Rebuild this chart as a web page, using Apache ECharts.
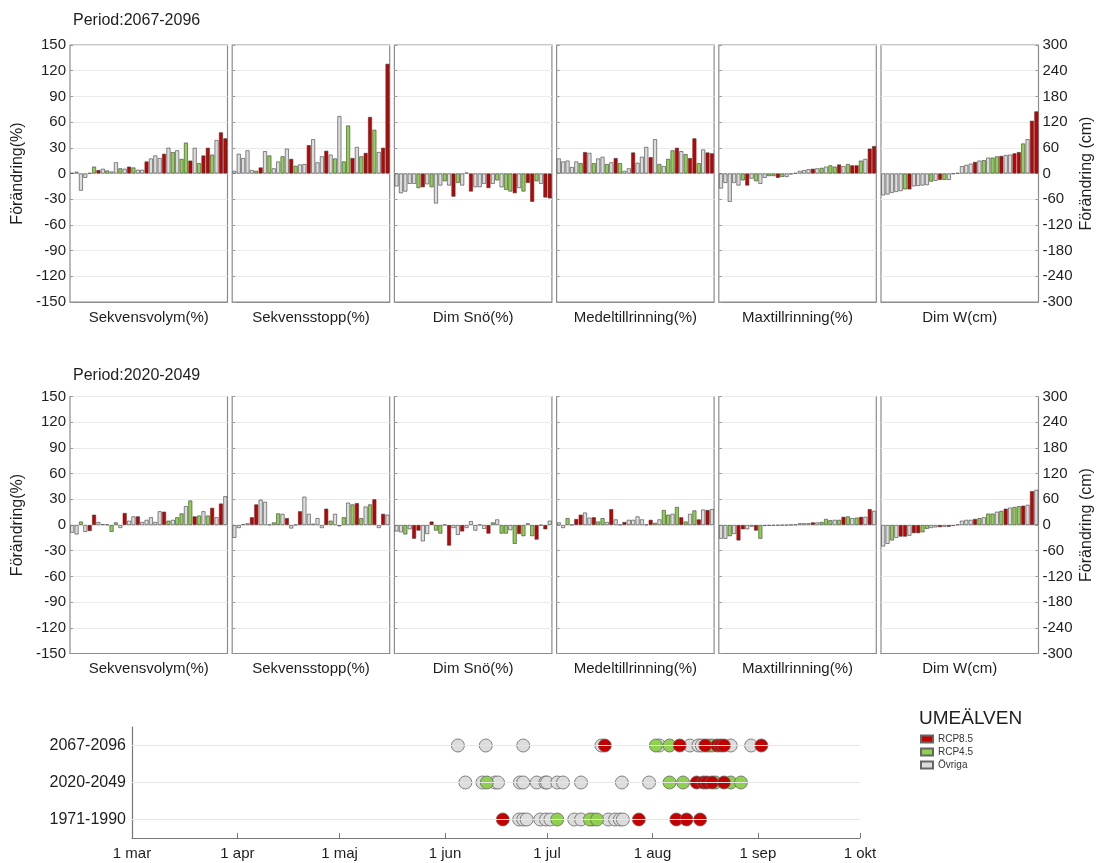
<!DOCTYPE html>
<html>
<head>
<meta charset="utf-8">
<script src="https://cdn.jsdelivr.net/npm/echarts@6/dist/echarts.min.js"></script>
<style>
  html, body { margin: 0; padding: 0; background: #fff; }
  #chart { width: 1100px; height: 863px; }
</style>
</head>
<body>
<div id="chart"></div>
<script>
// panel names (x labels under each box)
const panelNames = ['Sekvensvolym(%)', 'Sekvensstopp(%)', 'Dim Snö(%)', 'Medeltillrinning(%)', 'Maxtillrinning(%)', 'Dim W(cm)'];
const periods = ['Period:2067-2096', 'Period:2020-2049'];
const models = Array.from({ length: 36 }, (_, i) => 'M' + (i + 1));

// scenario of each bar: R = RCP8.5, G = RCP4.5, O = Övriga
const scen67 = 'OOOOOGROGOOGORGOOROOOROGOGGROGRRGORR';
const scen67Max = 'OOOOOGROGOOGGRGOOOOOOROGOGGROGRRGORR';
const scen67DimW = 'OOOOOGROOOOGORGOOOOOOROGOGGROORRGORR';
const scen20 = 'OOGORROORGGOROOROOOOORGOGGOGRGOGRORO';
const scen20Max = 'OOGORROORGO' + 'OOOOOOO' + 'OOOROGGGOGRGOGRORO';
const scen20DimW = 'OOGORRORRG' + 'GOOROROOOO' + 'ORGOGGOGRO' + 'GGRORO';

// 2067-2096
const volym67 = [0.5, 2, -20, -5, 0.5, 8, 4, 5.5, 3.5, 2.3, 13, 6, 5.5, 8, 7, 4.3, 4.3, 14, 17.5, 21, 18, 23, 30, 25, 27, 17, 36, 15, 30, 12, 21, 30, 22, 39, 48, 41];
const topp67 = [3, 23, 18, 27, 4, 3, 7, 26, 21, 6, 14, 20, 29, 17, 9, 10.5, 11, 33, 40, 13, 20, 26.5, 22, 17.5, 67, 14, 56, 18, 31, 20, 24, 66, 51, 25, 30, 128];
const sno67 = [-15, -23, -21, -12, -12, -17, -16, -12.5, -16, -35, -14, -9, -14, -27, -11, -14, 1, -21, -16, -16, -12, -17, -12, -8, -16, -19, -21, -23, -17, -21, -11, -33, -9, -12, -28, -29];
const medel67 = [17.5, 14, 15, 7.5, 14, 12, 25, 24, 12, 17.5, 19.5, 11, 13, 18, 12, 3, 6, 24.5, 12.5, 19.5, 31, 19, 40, 11, 8.5, 17, 27, 30, 26, 22.5, 18, 41, 12, 28, 24.5, 23.5];
const max67 = [-17.5, -11, -33, -11, -14, -8, -14, -6, -9, -12, -5, -3, -3, -5, -4, -4, -1, 0.5, 3, 4, 5, 5.5, 6, 6.5, 8, 9.5, 8, 10.5, 8.5, 11, 9.5, 9.5, 15, 17, 29, 32];
const dimW67 = [-51, -49, -45, -43, -41, -37, -37, -30, -29, -28, -27, -19, -17, -15, -15, -15, -1, 1, 17, 20, 23, 27, 30, 31, 37, 37, 40, 41, 43, 44, 47, 50, 70, 80, 123, 145];

// 2020-2049
const volym20 = [-9, -11, 4, -8, -7, 12, 3.5, 1, 0.5, -8, 3, -3.5, 14, 5, 10, 10, 3.5, 6, 9, 3.5, 16, 15.5, 5, 6, 9, 13.5, 22, 28.5, 10, 11, 16, 11, 20, 9, 25, 33.5];
const topp20 = [-15, -3.5, 1, 2, 9, 24, 29.5, 27, 0.5, 3, 13.5, 13, 8, -4, 0.3, 16, 33, 13, 1.5, 8, -3.5, 19, 5, 13, -1.5, 9, 26, 24, 25.5, 8, 21.5, 24, 30, -3.5, 13, 12];
const sno20 = [-7.5, -8.5, -11, -5, -16, -6.5, -19, -10.5, 4, -6.5, -10, 0.3, -24, -3.5, -11.5, -7.5, -3.5, 4.5, -6.5, 0.3, -4.5, -10, 3, 6.5, -10, -10, -6, -22, -10.5, -13, 2, -13, -17, -0.3, -5, 5];
const medel20 = [3, -3.5, 8, 0.3, 7, 12, 14.5, 8.5, 9, 4, 8, 3.5, 18.5, 6.5, 0.5, 3.5, 6, 6, 10, 6.5, 0.5, 6, 2.5, 6.5, 17.5, 12, 13, 21, 9, 4, 13, 17, 6.5, 18, 17.5, 18.5];
const max20 = [-16, -16, -13, -10.5, -18, -5, -5, -2, -6.5, -16, -1, -0.8, -0.6, -0.5, -0.3, -0.2, 0.2, 0.4, 2, 2, 2, 3, 3, 3.5, 7, 5.5, 6, 6, 9.5, 10, 8, 8.5, 9.5, 9.5, 18.5, 16.5];
const dimW20 = [-50, -44, -36, -30, -27, -27, -25, -19, -19, -17, -9, -7, -5.5, -5, -4, -4, -2, 1, 10, 12, 12, 14, 16, 18, 26.5, 26.5, 31, 33, 38, 40.5, 42, 44, 45, 47, 79, 82];

// timing (days after 1 mar) per period and scenario
const timeRows = ['1971-1990', '2020-2049', '2067-2096'];
const tickDays = [0, 31, 61, 92, 122, 153, 184, 214];
const tickNames = ['1 mar', '1 apr', '1 maj', '1 jun', '1 jul', '1 aug', '1 sep', '1 okt'];
const t67R = [139, 161, 168.5, 172, 173, 174, 185];
const t67G = [154, 158, 170.5];
const t67O = [95.8, 104, 115, 138, 155, 164, 166.5, 167.5, 169.5, 176, 182];
const t20R = [166, 168, 169, 170.5, 174];
const t20G = [104.3, 158, 162, 171.5, 176, 179];
const t20O = [98, 103, 106.7, 107.6, 114, 115, 119, 121.5, 122, 125, 126.7, 132, 144, 152];
const t71R = [109, 149, 160, 163, 167];
const t71G = [125, 134.6, 136.7];
const t71O = [113.8, 115, 116, 120, 121.7, 123, 130, 132, 135.5, 140, 142, 143.4, 144.3];

const rows = [
  [volym67, topp67, sno67, medel67, max67, dimW67],
  [volym20, topp20, sno20, medel20, max20, dimW20]
];
const rowScen = [
  [scen67, scen67, scen67, scen67, scen67Max, scen67DimW],
  [scen20, scen20, scen20, scen20, scen20Max, scen20DimW]
];

const colorOf = { R: '#c40000', G: '#8fd14f', O: '#dcdcdc' };
const font = 'Liberation Sans, Arial, sans-serif';
const txt = '#1e1e1e';

let chart = echarts.init(document.getElementById('chart'));

let grid = [], xAxis = [], yAxis = [], series = [];
for (let r = 0; r < 2; r++) {
  for (let c = 0; c < 6; c++) {
    let k = r * 6 + c;
    let cm = c == 5;
    grid.push({
      left: 70 + c * 162.2, top: r == 0 ? 45 : 396.5, width: 157.5, height: 257,
      show: true, borderColor: '#8c8c8c', borderWidth: 1.2
    });
    xAxis.push({
      gridIndex: k, type: 'category', data: models,
      axisLine: { onZero: false, lineStyle: { color: '#8c8c8c' } },
      axisTick: { show: false }, axisLabel: { show: false },
      name: panelNames[c], nameLocation: 'middle', nameGap: 8,
      nameTextStyle: { fontSize: 15, color: txt, fontFamily: font }
    });
    yAxis.push({
      gridIndex: k, type: 'value',
      min: cm ? -300 : -150, max: cm ? 300 : 150, interval: cm ? 60 : 30,
      position: cm ? 'right' : 'left',
      axisLine: { show: false },
      axisTick: { show: true, inside: true, length: 3, lineStyle: { color: '#999' } },
      axisLabel: { show: c == 0 || cm, fontSize: 15, color: txt, fontFamily: font, margin: 4 },
      splitLine: { lineStyle: { color: '#ebebeb' } },
      name: c == 0 ? 'Förändring(%)' : (cm ? 'Förändring (cm)' : ''),
      nameLocation: 'middle', nameRotate: 90, nameGap: cm ? 40 : 44,
      nameTextStyle: { fontSize: 16, color: txt, fontFamily: font }
    });
    let vals = rows[r][c], sc = rowScen[r][c];
    series.push({
      type: 'bar', xAxisIndex: k, yAxisIndex: k,
      barCategoryGap: '10%',
      itemStyle: { borderColor: '#3a3a3a', borderWidth: 0.6 },
      data: vals.map((v, i) => ({ value: v, itemStyle: { color: colorOf[sc[i]] } }))
    });
  }
}

// timeline panel
grid.push({ left: 132, top: 727, width: 728, height: 111 });
xAxis.push({
  gridIndex: 12, type: 'value', min: 0, max: 214,
  axisLine: { show: true, onZero: false, lineStyle: { color: '#777', width: 1.2 } },
  axisTick: { show: true, inside: true, length: 5, customValues: tickDays, lineStyle: { color: '#777' } },
  axisLabel: {
    customValues: tickDays, fontSize: 15, color: txt, fontFamily: font, margin: 8,
    formatter: v => tickNames[tickDays.indexOf(v)]
  },
  splitLine: { show: false }
});
yAxis.push({
  gridIndex: 12, type: 'category', data: timeRows,
  axisLine: { show: true, onZero: false, lineStyle: { color: '#777', width: 1.2 } },
  axisTick: { inside: true, alignWithLabel: true, length: 4, lineStyle: { color: '#777' } },
  axisLabel: { fontSize: 16, color: txt, fontFamily: font, margin: 6 },
  splitLine: { show: false }
});

const dots = (a, b, c) => [
  ...a.map(d => [d, 0]), ...b.map(d => [d, 1]), ...c.map(d => [d, 2])
];
const dotStyle = col => ({ color: col, opacity: 1, borderColor: '#666', borderWidth: 0.8 });

series.push({
  name: 'Övriga', type: 'scatter', xAxisIndex: 12, yAxisIndex: 12, symbolSize: 13,
  itemStyle: dotStyle(colorOf.O), data: dots(t71O, t20O, t67O),
  markLine: {
    silent: true, symbol: 'none', label: { show: false },
    lineStyle: { color: '#e6e6e6', type: 'solid', width: 1 },
    data: [{ yAxis: 0 }, { yAxis: 1 }, { yAxis: 2 }]
  }
});
series.push({
  name: 'RCP4.5', type: 'scatter', xAxisIndex: 12, yAxisIndex: 12, symbolSize: 13,
  itemStyle: dotStyle(colorOf.G), data: dots(t71G, t20G, t67G)
});
series.push({
  name: 'RCP8.5', type: 'scatter', xAxisIndex: 12, yAxisIndex: 12, symbolSize: 13,
  itemStyle: dotStyle(colorOf.R), data: dots(t71R, t20R, t67R)
});

let option = {
  animation: false,
  textStyle: { fontFamily: font },
  title: [
    { text: periods[0], left: 73, top: 13, padding: 0, textStyle: { fontSize: 16, fontWeight: 'normal', color: txt, fontFamily: font } },
    { text: periods[1], left: 73, top: 368, padding: 0, textStyle: { fontSize: 16, fontWeight: 'normal', color: txt, fontFamily: font } },
    { text: 'UMEÄLVEN', left: 919, top: 709, padding: 0, textStyle: { fontSize: 19, fontWeight: 'normal', color: txt, fontFamily: font } }
  ],
  legend: {
    data: ['RCP8.5', 'RCP4.5', 'Övriga'],
    orient: 'vertical', left: 920, top: 734, padding: 0,
    icon: 'rect', itemWidth: 12, itemHeight: 7, itemGap: 3,
    textStyle: { fontSize: 10, color: '#333', fontFamily: font }
  },
  grid: grid,
  xAxis: xAxis,
  yAxis: yAxis,
  series: series
};
chart.setOption(option);
</script>
</body>
</html>
